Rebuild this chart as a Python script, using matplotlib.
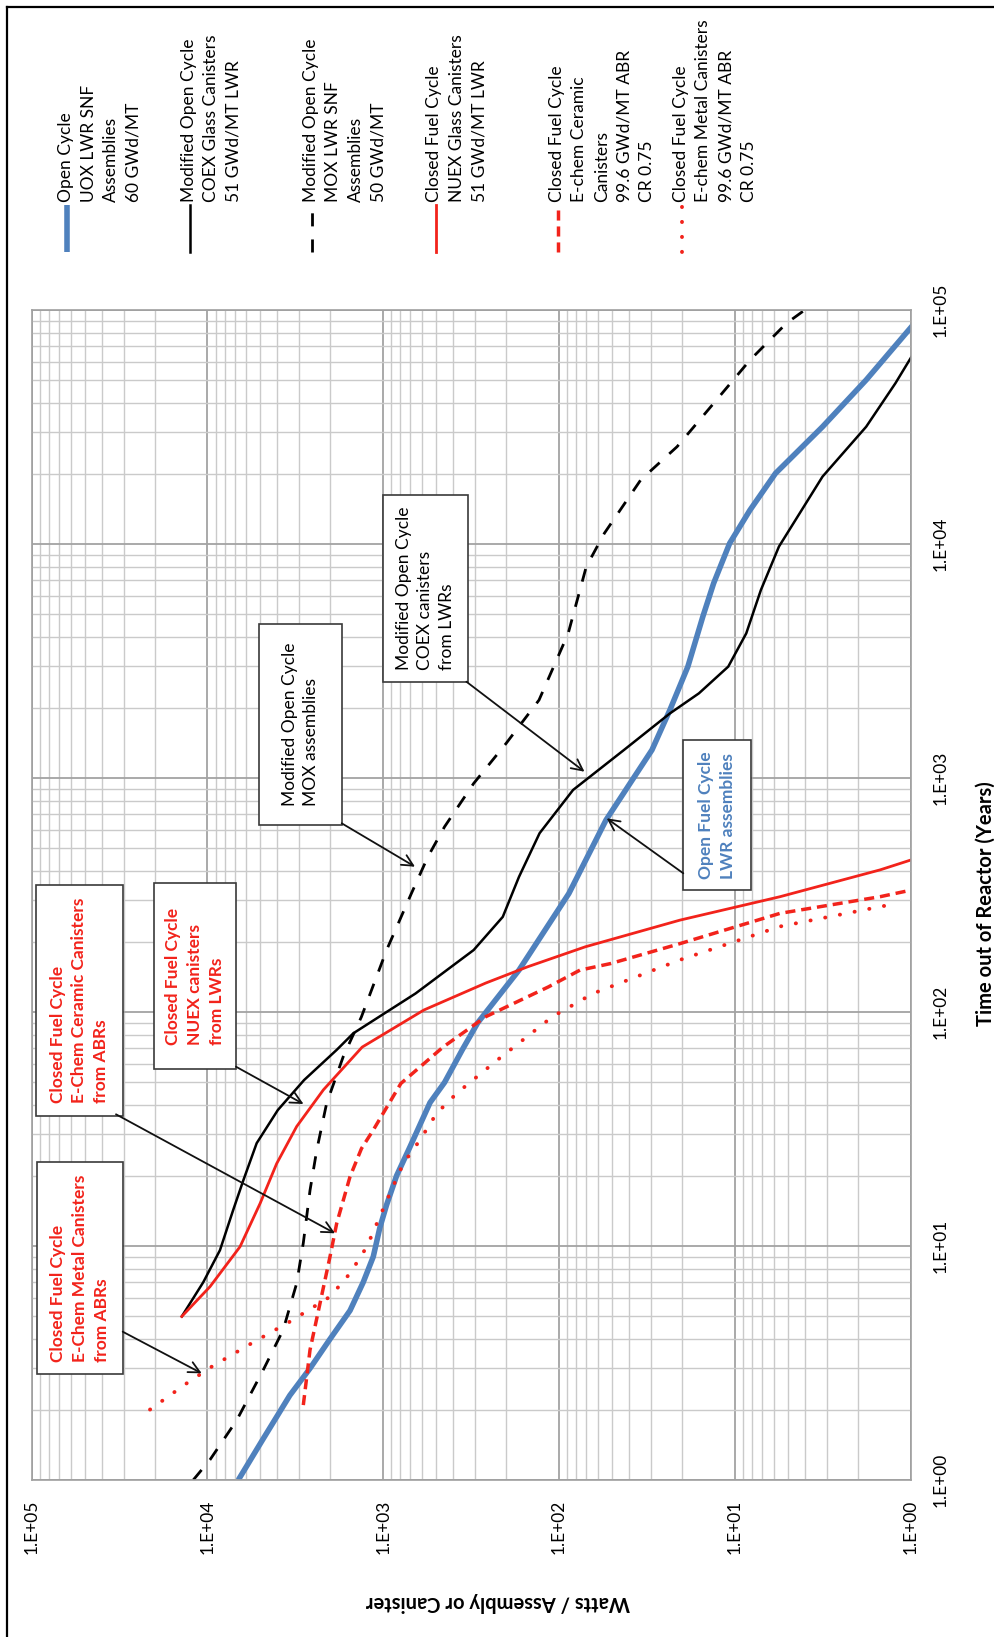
import matplotlib.pyplot as plt
from matplotlib.lines import Line2D
from matplotlib.patches import Rectangle, FancyArrowPatch
from matplotlib.ticker import FixedLocator, LogLocator, NullFormatter

plt.rcParams['font.family'] = ['Lato', 'DejaVu Sans']

# decay heat vs. time out of reactor
# open cycle, UOX LWR SNF assemblies
t_uox = [1, 1.5, 2.3, 3, 4, 5.3, 7, 9, 12, 15, 20, 26.5, 41, 50, 69, 90, 151, 321,
         662, 1318, 1954, 2992, 4898, 6792, 10070, 13960, 20040, 31700, 50230, 84900, 100000]
w_uox = [6680, 4820, 3400, 2610, 2010, 1545, 1300, 1140, 1045, 957, 839, 705, 542, 448,
         355, 290, 169, 87.9, 54.0, 29.6, 23.4, 18.5, 15.2, 13.2, 10.7, 8.2, 5.87, 3.17,
         1.79, 0.987, 0.82]

# modified open cycle, COEX glass canisters
t_coex = [5, 7, 9.6, 14.3, 19.1, 27.5, 38.1, 51.2, 68.9, 81.1, 120, 184, 255, 378, 581,
          889, 1318, 1888, 2301, 2992, 4150, 6353, 9750, 19410, 31700, 48640, 63240, 100000]
w_coex = [14000, 10570, 8490, 7130, 6250, 5250, 3980, 2820, 1840, 1480, 655, 306, 209,
          169, 129, 83.2, 42.7, 23.4, 16.0, 10.9, 8.61, 7.11, 5.61, 3.17, 1.79, 1.22,
          0.987, 0.68]

# modified open cycle, MOX LWR SNF assemblies
t_mox = [1, 1.22, 1.8, 2.95, 4.38, 6.92, 10.3, 17.3, 25.7, 40.7, 64.4, 95.5, 184, 321,
         461, 619, 948, 1406, 2153, 4150, 8000, 11120, 18790, 26060, 39900, 61090, 87700,
         100000]
w_mox = [12050, 9680, 6820, 4820, 3710, 3110, 2850, 2610, 2390, 2100, 1690, 1330, 957,
         692, 557, 448, 306, 200, 130, 88.7, 70.0, 55.2, 34.3, 21.3, 13.2, 8.2, 5.09, 4.0]

# closed fuel cycle, NUEX glass canisters
t_nuex = [5, 6.7, 9.93, 15.2, 22.5, 32.4, 46.5, 70.8, 102, 133, 156, 190, 247, 311, 405,
          447, 470]
w_nuex = [14000, 9680, 6530, 5020, 4040, 3110, 2190, 1318, 587, 261, 151, 70.8, 20.5,
          5.53, 1.49, 0.99, 0.81]

# closed fuel cycle, E-chem ceramic canisters
t_ceramic = [2.09, 3.6, 5.69, 8.99, 12.5, 19.8, 26.1, 31.3, 49.5, 70.8, 95.5, 128, 151,
             161, 196, 264, 311, 332, 339]
w_ceramic = [2850, 2610, 2290, 2010, 1840, 1545, 1330, 1140, 794, 457, 261, 115, 76.0,
             51.0, 20.5, 5.53, 1.49, 0.99, 0.8]

# closed fuel cycle, E-chem metal canisters
t_metal = [2, 2.59, 3.05, 3.84, 4.75, 6.07, 7.64, 9.93, 12.9, 16.8, 22.5, 28.4, 36.9,
           45.0, 62.4, 95.5, 120, 167, 232, 291]
w_metal = [21230, 13120, 9460, 5610, 3400, 2010, 1545, 1240, 1067, 916, 769, 618, 497,
           381, 224, 109, 64.0, 20.5, 5.53, 1.2]

legend_labels = [
    "Open Cycle\nUOX LWR SNF\nAssemblies\n60 GWd/MT",
    "Modified Open Cycle\nCOEX Glass Canisters\n51 GWd/MT LWR",
    "Modified Open Cycle\nMOX LWR SNF\nAssemblies\n50 GWd/MT",
    "Closed Fuel Cycle\nNUEX Glass Canisters\n51 GWd/MT LWR",
    "Closed Fuel Cycle\nE-chem Ceramic\nCanisters\n99.6 GWd/MT ABR\nCR 0.75",
    "Closed Fuel Cycle\nE-chem Metal Canisters\n99.6 GWd/MT ABR\nCR 0.75",
]

watt_ticks = [1e5, 1e4, 1e3, 1e2, 1e1, 1e0]
watt_labels = ['1.E+05', '1.E+04', '1.E+03', '1.E+02', '1.E+01', '1.E+00']
year_ticks = [1e0, 1e1, 1e2, 1e3, 1e4, 1e5]
year_labels = ['1.E+00', '1.E+01', '1.E+02', '1.E+03', '1.E+04', '1.E+05']

callout_texts = [
    "Closed Fuel Cycle\nE-Chem Metal Canisters\nfrom ABRs",
    "Closed Fuel Cycle\nE-Chem Ceramic Canisters\nfrom ABRs",
    "Closed Fuel Cycle\nNUEX canisters\nfrom LWRs",
    "Modified Open Cycle\nMOX assemblies",
    "Modified Open Cycle\nCOEX canisters\nfrom LWRs",
    "Open Fuel Cycle\nLWR assemblies",
]

BLUE = '#4f81bd'
RED = '#f2231b'
BLACK = '#000000'

W_PX, H_PX = 994, 1637


def px(x, y):
    # pixel position (origin top-left) -> figure fraction
    return x / W_PX, 1 - y / H_PX


fig = plt.figure(figsize=(W_PX / 100, H_PX / 100), dpi=100)
fig.patch.set_facecolor('white')

left, right, top, bottom = 31.7, 910.6, 310, 1480
ax = fig.add_axes([left / W_PX, 1 - bottom / H_PX,
                   (right - left) / W_PX, (bottom - top) / H_PX])

styles = [
    dict(color=BLUE, lw=4.0, ls='-', solid_capstyle='butt'),
    dict(color=BLACK, lw=1.8, ls='-'),
    dict(color=BLACK, lw=2.0, ls=(0, (4.7, 4.7))),
    dict(color=RED, lw=2.0, ls='-'),
    dict(color=RED, lw=2.5, ls=(0, (2.9, 1.7))),
    dict(color=RED, lw=2.8, ls=(0, (0.05, 3.8)), dash_capstyle='round'),
]
series = [(w_uox, t_uox), (w_coex, t_coex), (w_mox, t_mox),
          (w_nuex, t_nuex), (w_ceramic, t_ceramic), (w_metal, t_metal)]

for (w, t), st in zip(series, styles):
    ax.plot(w, t, **st)

ax.set_xscale('log')
ax.set_yscale('log')
ax.set_xlim(1e5, 1e0)
ax.set_ylim(1e0, 1e5)

ax.xaxis.set_major_locator(FixedLocator(watt_ticks))
ax.xaxis.set_minor_locator(LogLocator(base=10, subs=range(2, 10)))
ax.xaxis.set_minor_formatter(NullFormatter())
ax.set_xticklabels(watt_labels, rotation=90, va='top', ha='center', fontsize=12.5)

ax.yaxis.tick_right()
ax.yaxis.set_major_locator(FixedLocator(year_ticks))
ax.yaxis.set_minor_locator(LogLocator(base=10, subs=range(2, 10)))
ax.yaxis.set_minor_formatter(NullFormatter())
ax.set_yticklabels(year_labels, rotation=90, va='center', ha='left', fontsize=12.5)

ax.tick_params(which='both', length=0)
ax.tick_params(axis='x', pad=14)
ax.tick_params(axis='y', pad=16)

ax.grid(which='major', color='#a3a3a3', lw=1.3)
ax.grid(which='minor', color='#cacaca', lw=1.0)
ax.set_axisbelow(True)
for sp in ax.spines.values():
    sp.set_color('#a0a0a0')
    sp.set_linewidth(1.2)

# axis titles
fig.text(*px(498, 1602), 'Watts / Assembly or Canister', rotation=180,
         ha='center', va='center', fontsize=14.5, fontweight='bold')
fig.text(*px(986, 904), 'Time out of Reactor (Years)', rotation=90,
         ha='center', va='center', fontsize=14.5, fontweight='bold')

# legend laid out across the top
leg_x = [67, 189.6, 312, 435.5, 558, 682]
for x, label, st in zip(leg_x, legend_labels, styles):
    x0, y0 = px(x, 252)
    x1, y1 = px(x, 205)
    fig.add_artist(Line2D([x0, x1], [y0, y1], transform=fig.transFigure, **st))
    fig.text(*px(x - 9, 202), label, rotation=90, ha='left', va='bottom',
             multialignment='left', fontsize=12.5, linespacing=1.5)

# call-out boxes: (box left, top, right, bottom), arrow start, arrow tip
callouts = [
    ((37.3, 1161.7, 122.7, 1374), (122.7, 1331.7), (201.7, 1373.3), RED, 'bold'),
    ((36, 885, 122.7, 1116), (116, 1114.3), (335, 1233.3), RED, 'bold'),
    ((153.5, 883.3, 236, 1069), (236, 1066.7), (303.5, 1104), RED, 'bold'),
    ((259.3, 624, 341.7, 825), (341.7, 823.3), (415, 866.7), BLACK, 'normal'),
    ((383.3, 495, 467.7, 681.7), (466.4, 681.7), (584.5, 771.7), BLACK, 'normal'),
    ((683.3, 740, 750.7, 890), (683.3, 873.3), (606.7, 818.3), BLUE, 'bold'),
]
for text, (box, a0, a1, col, weight) in zip(callout_texts, callouts):
    bx0, by0, bx1, by1 = box
    fx0, fy0 = px(bx0, by1)
    fig.add_artist(Rectangle((fx0, fy0), (bx1 - bx0) / W_PX, (by1 - by0) / H_PX,
                             transform=fig.transFigure, fc='white', ec='#3a3a3a',
                             lw=1.2, zorder=3))
    fig.text(*px((bx0 + bx1) / 2, (by0 + by1) / 2), text, rotation=90,
             ha='center', va='center', multialignment='left', color=col,
             fontsize=12.5, fontweight=weight, linespacing=1.45, zorder=4)
    fig.add_artist(FancyArrowPatch(px(*a0), px(*a1), transform=fig.transFigure,
                                   arrowstyle='->', mutation_scale=20, lw=1.3,
                                   color='#111111', shrinkA=0, shrinkB=0, zorder=4))

# outer frame
fig.add_artist(Line2D([7 / W_PX, 1], [1 - 7 / H_PX] * 2, transform=fig.transFigure,
                      color='black', lw=1.6))
fig.add_artist(Line2D([7 / W_PX] * 2, [0, 1 - 7 / H_PX], transform=fig.transFigure,
                      color='black', lw=1.6))

fig.savefig('out.png', dpi=100)
